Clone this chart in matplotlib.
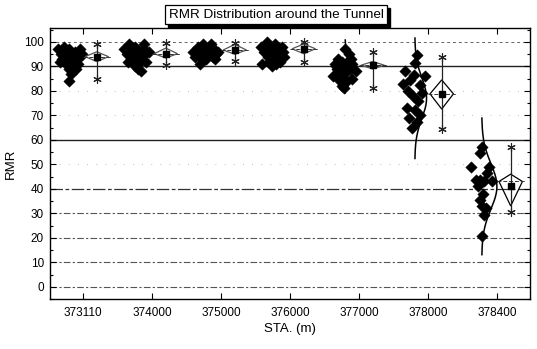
import numpy as np
import matplotlib
matplotlib.use("Agg")
import matplotlib.pyplot as plt
from matplotlib.patches import Polygon, Rectangle

plt.rcParams['font.family'] = ['Liberation Sans', 'DejaVu Sans']

stations = ["373110", "374000", "375000", "376000", "377000", "378000", "378400"]

# scatter points: (x offset from station tick, RMR)
pts_dx = [
    [-0.36, -0.32, -0.28, -0.30, -0.25, -0.22, -0.20, -0.18, -0.15, -0.12, -0.10, -0.08, -0.05, -0.14, -0.20, -0.25, -0.05, -0.02, -0.17, -0.20, -0.33, -0.10],
    [-0.40, -0.36, -0.33, -0.30, -0.28, -0.25, -0.22, -0.20, -0.18, -0.15, -0.12, -0.10, -0.08, -0.05, -0.25, -0.20, -0.35, -0.12, -0.30, -0.16],
    [-0.40, -0.37, -0.33, -0.30, -0.27, -0.24, -0.20, -0.18, -0.15, -0.12, -0.10, -0.07, -0.04, -0.30, -0.22, -0.35, -0.14, -0.26, -0.09],
    [-0.42, -0.38, -0.35, -0.32, -0.28, -0.25, -0.22, -0.20, -0.17, -0.14, -0.12, -0.10, -0.08, -0.40, -0.30, -0.20, -0.15, -0.26, -0.33],
    [-0.20, -0.15, -0.30, -0.25, -0.35, -0.20, -0.10, -0.32, -0.28, -0.15, -0.22, -0.05, -0.38, -0.30, -0.10, -0.18, -0.25, -0.22, -0.12, -0.33, -0.18],
    [-0.16, -0.19, -0.33, -0.04, -0.26, -0.12, -0.29, -0.22, -0.14, -0.30, -0.19, -0.12, -0.16, -0.23, -0.36, -0.08, -0.27, -0.20],
    [-0.22, -0.25, -0.38, -0.11, -0.14, -0.31, -0.24, -0.18, -0.07, -0.25, -0.21, -0.16, -0.18, -0.22, -0.28, -0.20],
]
pts_rmr = [
    [97, 95, 98, 93, 96, 94, 97, 92, 95, 96, 93, 91, 94, 90, 89, 91, 97, 95, 87, 84, 92, 89],
    [97, 95, 99, 93, 96, 98, 94, 91, 96, 93, 97, 95, 92, 96, 90, 89, 92, 99, 97, 88],
    [96, 94, 98, 96, 93, 97, 95, 98, 96, 94, 97, 95, 96, 91, 93, 97, 99, 99, 93],
    [98, 96, 99, 94, 97, 95, 99, 93, 97, 95, 98, 96, 94, 91, 92, 91, 92, 90, 100],
    [97, 95, 93, 92, 91, 90, 91, 89, 88, 89, 87, 88, 86, 85, 85, 84, 82, 81, 93, 90, 92],
    [94.7, 91.3, 88, 86, 84.5, 82.5, 80, 77.8, 75.7, 73, 72.2, 70.2, 67.5, 65, 83, 79, 69, 86.5],
    [57.2, 54.6, 49, 49, 46.5, 43.7, 43.7, 43, 43, 35.5, 32.8, 32.2, 29.4, 20.6, 41, 38],
]

# mean diamonds and whiskers
mean_mid = [94, 95.2, 96.7, 97.2, 90.5, 78.8, 43]
mean_pt = [94, 95.2, 96.7, 97.2, 90.5, 78.8, 41.2]
diam_top = [96, 97.5, 99, 99.2, 92, 84.5, 46]
diam_bot = [92, 93.5, 95, 95.2, 89, 72.6, 33]
whisk_lo = [85, 90.5, 92.2, 92, 81, 64.5, 30.5]
whisk_hi = [99, 99.5, 99.6, 100, 96, 94, 57]

# normal curves (groups 377000, 378000, 378400)
curve_idx = [4, 5, 6]
curve_mu = [90, 77, 41]
curve_sd = [3.6, 8.2, 9.3]

fig = plt.figure(figsize=(5.37, 3.49), dpi=100)
ax = fig.add_axes([0.0922, 0.1433, 0.8948, 0.7757])

# horizontal reference lines
for y in [0, 10, 20, 30]:
    ax.axhline(y, color='#555555', lw=0.8, ls=(0, (6, 2, 2, 2)), zorder=1)
ax.axhline(100, color='#666666', lw=0.7, ls=(0, (3, 3)), zorder=1)
ax.axhline(40, color='#333333', lw=0.9, ls=(0, (10, 2, 3, 2)), zorder=1)
for y in [50, 70, 80]:
    ax.axhline(y, color='#aaaaaa', lw=0.6, ls=(0, (1, 10)), zorder=1)
for y in [60, 90]:
    ax.axhline(y, color='#222222', lw=1.0, zorder=1)

hw = 0.17
off = 0.2
for i in range(len(stations)):
    ax.scatter(np.array(pts_dx[i]) + i, pts_rmr[i], marker='D', s=34,
               color='black', edgecolors='black', linewidths=0.3, zorder=3)
    c = i + off
    big = (diam_top[i] - diam_bot[i]) > 8
    ec = 'black' if big else '#555555'
    poly = Polygon([(c - hw, mean_mid[i]), (c, diam_top[i]), (c + hw, mean_mid[i]), (c, diam_bot[i])],
                   closed=True, fill=False, edgecolor=ec, lw=0.9, zorder=4)
    ax.add_patch(poly)
    ax.plot([c - hw - 0.03, c + hw + 0.04], [mean_mid[i], mean_mid[i]], color='#333333',
            lw=0.7, ls=(0, (4, 2)), zorder=4)
    ax.plot([c, c], [whisk_lo[i], whisk_hi[i]], color='#222222', lw=0.9, zorder=4)
    ax.plot([c, c], [whisk_lo[i], whisk_hi[i]], ls='none', marker=(6, 2, 0),
            ms=6, mec='#222222', mew=0.8, zorder=5)
    ax.plot([c], [mean_pt[i]], marker='s', ms=4, color='black', zorder=6)

base_dx = [-0.2, -0.19, -0.22]
peak_w = [0.14, 0.17, 0.22]
for k, gi in enumerate(curve_idx):
    yy = np.linspace(curve_mu[k] - 3 * curve_sd[k], curve_mu[k] + 3 * curve_sd[k], 200)
    xx = gi + base_dx[k] + peak_w[k] * np.exp(-0.5 * ((yy - curve_mu[k]) / curve_sd[k]) ** 2)
    ax.plot(xx, yy, color='black', lw=1.1, zorder=3)

ax.set_xlim(-0.486, 6.48)
ax.set_ylim(-4.9, 105.6)
ax.set_xticks(range(len(stations)))
ax.set_xticklabels(stations)
ax.set_yticks(range(0, 101, 10))
ax.set_yticks(range(-5, 106, 5), minor=True)
ax.tick_params(axis='both', which='both', direction='in', top=True, right=True,
               labelsize=8.5, length=4, width=0.8, pad=4)
ax.tick_params(axis='y', which='minor', length=2)
ax.tick_params(axis='x', pad=6)
for s in ax.spines.values():
    s.set_linewidth(1.0)

ax.set_xlabel("STA. (m)", fontsize=9.5, labelpad=3)
ax.set_ylabel("RMR", fontsize=9.5, labelpad=5)

# title with box and shadow
title = fig.text(0.514, 0.958, "RMR Distribution around the Tunnel", fontsize=9.7,
                 ha='center', va='center', color='black', zorder=10,
                 bbox=dict(boxstyle='square,pad=0.25', fc='white', ec='black', lw=0.9))
fig.canvas.draw()
bb = title.get_bbox_patch().get_window_extent().transformed(fig.transFigure.inverted())
dx, dy = 3.0 / 537, 3.0 / 349
fig.patches.append(Rectangle((bb.x0 + dx, bb.y0 - dy), bb.width, bb.height,
                             transform=fig.transFigure, fc='black', ec='black', zorder=5))

fig.savefig("out.png", dpi=100)
